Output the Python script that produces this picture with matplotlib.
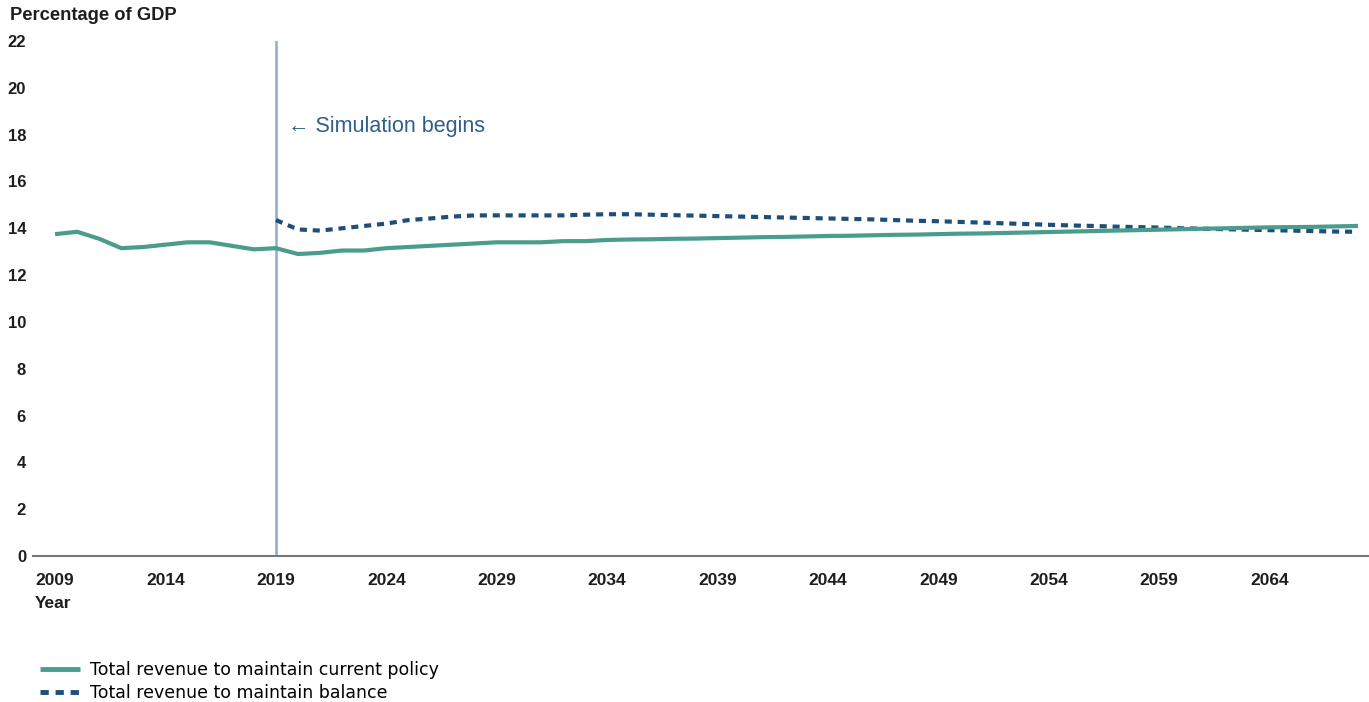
import numpy as np
import matplotlib.pyplot as plt

plt.rcParams['font.family'] = ['Liberation Sans', 'DejaVu Sans']

# Years for each series
years_policy = list(range(2009, 2069))
years_balance = list(range(2019, 2069))

# Total revenue to maintain current policy (% of GDP)
policy = [13.75, 13.85, 13.55, 13.15, 13.2, 13.3, 13.4, 13.4, 13.25, 13.1,
          13.15, 12.9, 12.95, 13.05, 13.05, 13.15, 13.2, 13.25, 13.3, 13.35,
          13.4, 13.4, 13.4, 13.45, 13.45, 13.5, 13.52, 13.53, 13.55, 13.56,
          13.58, 13.6, 13.62, 13.63, 13.65, 13.67, 13.68, 13.7, 13.72, 13.73,
          13.75, 13.77, 13.78, 13.8, 13.82, 13.84, 13.86, 13.88, 13.9, 13.92,
          13.94, 13.96, 13.98, 14.0, 14.02, 14.04, 14.05, 14.06, 14.08, 14.1]

# Total revenue to maintain balance (% of GDP)
balance = [14.35, 13.95, 13.9, 14.0, 14.1, 14.2, 14.35, 14.42, 14.5, 14.55,
           14.55, 14.55, 14.55, 14.55, 14.58, 14.6, 14.6, 14.58, 14.56, 14.54,
           14.52, 14.5, 14.48, 14.46, 14.44, 14.42, 14.4, 14.38, 14.35, 14.32,
           14.3, 14.27, 14.24, 14.21, 14.18, 14.15, 14.12, 14.1, 14.07, 14.05,
           14.03, 14.0, 13.98, 13.96, 13.94, 13.92, 13.9, 13.88, 13.86, 13.85]

xticks = list(range(2009, 2068, 5))
yticks = list(range(0, 23, 2))
sim_start = 2019

fig = plt.figure(figsize=(13.69, 7.02), dpi=100)
ax = fig.add_axes([33 / 1369, 1 - 556 / 702, 1 - 33 / 1369, (556 - 41) / 702])

ax.axvline(sim_start, color='#8eaccb', lw=1.8, zorder=1)
ax.plot(years_policy, policy, color='#4a9d8c', lw=3.0, solid_capstyle='butt',
        label='Total revenue to maintain current policy', zorder=3)
ax.plot(years_balance, balance, color='#1f4e79', lw=3.0, ls=(0, (1.7, 1.4)),
        label='Total revenue to maintain balance', zorder=2)

ax.text(2019.55, 18.33, '\u2190 Simulation begins', color='#2e5f8a', fontsize=15.5,
        va='center', ha='left')

ax.set_xlim(2008, 2068.5)
ax.set_ylim(0, 22)
ax.set_xticks(xticks)
ax.set_yticks(yticks)
for s in ['left', 'top', 'right']:
    ax.spines[s].set_visible(False)
ax.spines['bottom'].set_color('#777777')
ax.spines['bottom'].set_linewidth(1.5)
ax.tick_params(axis='both', length=0, colors='#1e1e1e')
ax.tick_params(axis='x', pad=12, labelsize=12.5)
ax.tick_params(axis='y', pad=5, labelsize=12)
for lbl in ax.get_xticklabels() + ax.get_yticklabels():
    lbl.set_fontweight('bold')

fig.text(10 / 1369, 1 - 16 / 702, 'Percentage of GDP', fontsize=13.2,
         fontweight='bold', color='#1e1e1e', va='center', ha='left')
fig.text(35 / 1369, 1 - 604 / 702, 'Year', fontsize=12.5, fontweight='bold',
         color='#1e1e1e', va='center', ha='left')

handles, labels = ax.get_legend_handles_labels()
leg = fig.legend(handles, labels, loc='upper left',
                 bbox_to_anchor=(40 / 1369, 1 - 661 / 702),
                 frameon=False, handlelength=2.3, labelspacing=0.3,
                 borderaxespad=0, borderpad=0, handletextpad=0.6,
                 prop={'family': 'DejaVu Sans', 'size': 12.5})
for line in leg.get_lines():
    line.set_linewidth(3.5)

plt.savefig('out.png', dpi=100)
